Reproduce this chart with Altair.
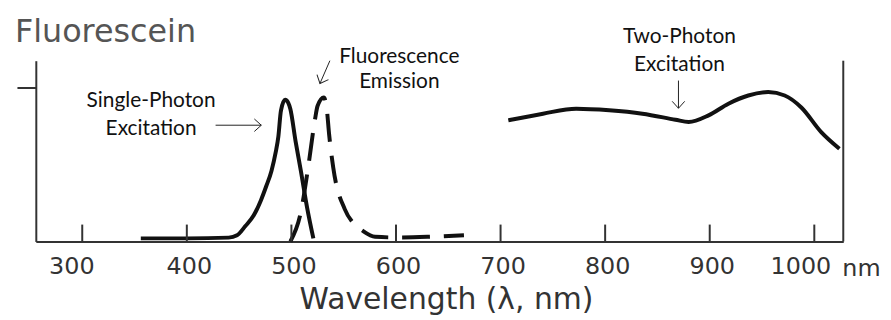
import altair as alt
import pandas as pd

# ---- data ----
exc_wl = [356, 400, 440, 448, 456, 464, 471, 476, 481, 485, 487.5, 490, 494, 497, 499, 504, 509, 515, 521]
exc_val = [0.02, 0.02, 0.025, 0.04, 0.1, 0.17, 0.27, 0.36, 0.46, 0.58, 0.68, 0.85, 0.92, 0.9, 0.86, 0.65, 0.46, 0.22, 0.02]

em_wl = [499, 509, 516, 522.5, 525, 531, 534, 536, 540, 551, 559, 568, 580, 600, 630, 665]
em_val = [0.0, 0.19, 0.48, 0.79, 0.88, 0.935, 0.85, 0.7, 0.48, 0.21, 0.12, 0.07, 0.03, 0.026, 0.03, 0.04]

tp_wl = [707.4, 740.6, 772.3, 803.9, 835.6, 867.2, 879.9, 898.9, 917.9, 936.9, 955.9, 971.7, 987.6, 1006.6, 1024]
tp_val = [0.787, 0.830, 0.862, 0.852, 0.830, 0.791, 0.776, 0.819, 0.895, 0.948, 0.970, 0.948, 0.870, 0.710, 0.602]

tick_values = [300, 400, 500, 600, 700, 800, 900, 1000]

label_lines = ["Single-Photon", "Excitation", "Fluorescence", "Emission", "Two-Photon", "Excitation"]
label_wl = [365.8, 365.8, 603.2, 603.2, 871.0, 871.0]
label_val = [0.871, 0.690, 1.161, 0.994, 1.290, 1.110]

unit_text = ["nm"]
unit_wl = [1026.8]
unit_val = [-0.226]

arrow_wl_start = [427.5, 536.8, 870.1]
arrow_val_start = [0.755, 1.174, 1.045]
arrow_wl_end = [471.2, 527.3, 870.1]
arrow_val_end = [0.755, 1.026, 0.865]
arrow_angle = [0, 113.5, 90]

X_DOMAIN = [255.6, 1027.7]
Y_DOMAIN = [0, 1.174]
W, H = 813, 182

xs = alt.Scale(domain=X_DOMAIN, nice=False, zero=False)
ys = alt.Scale(domain=Y_DOMAIN, nice=False, zero=False)

exc_df = pd.DataFrame({"wl": exc_wl, "val": exc_val})
em_df = pd.DataFrame({"wl": em_wl, "val": em_val})
tp_df = pd.DataFrame({"wl": tp_wl, "val": tp_val})
ticks_df = pd.DataFrame({"wl": tick_values})
labels_df = pd.DataFrame({"wl": label_wl, "val": label_val, "text": label_lines})
unit_df = pd.DataFrame({"wl": unit_wl, "val": unit_val, "text": unit_text})
arrows_df = pd.DataFrame({
    "wl": arrow_wl_start, "val": arrow_val_start,
    "wl2": arrow_wl_end, "val2": arrow_val_end, "angle": arrow_angle,
})
one = pd.DataFrame({"a": [0]})

AX = "#333333"

x_axis = alt.Axis(
    values=tick_values, ticks=False, grid=False, format="d",
    labelFont="DejaVu Sans", labelFontSize=24, labelColor=AX, labelPadding=13,
    labelFlush=False, labelOverlap=False,
    labelOffset={"condition": [{"test": "datum.value == 300", "value": -11},
                               {"test": "datum.value == 1000", "value": -14}],
                 "value": 2},
    domainColor=AX, domainWidth=2,
    title="Wavelength (λ, nm)", titleFont="DejaVu Sans", titleFontSize=30,
    titleFontWeight="normal", titleColor=AX, titleX=413, titleY=68,
    titleBaseline="alphabetic", titleAlign="center",
)
y_axis = alt.Axis(
    values=[1.0], labels=False, title=None, grid=False,
    tickSize=19, tickWidth=2, tickColor=AX, domainColor=AX, domainWidth=2,
)


def X(field):
    return alt.X(field, type="quantitative", scale=xs, axis=x_axis)


def Y(field):
    return alt.Y(field, type="quantitative", scale=ys, axis=y_axis)


exc = alt.Chart(exc_df).mark_line(color="#111111", strokeWidth=4, interpolate="monotone").encode(
    x=X("wl"), y=Y("val"),
)
em = alt.Chart(em_df).mark_line(color="#111111", strokeWidth=4, interpolate="monotone",
                                 strokeDash=[28, 14]).encode(
    x=X("wl"), y=Y("val"),
)
tp = alt.Chart(tp_df).mark_line(color="#111111", strokeWidth=4, interpolate="monotone").encode(
    x=X("wl"), y=Y("val"),
)
ticks = alt.Chart(ticks_df).mark_rule(color=AX, strokeWidth=2).encode(
    x=X("wl"),
    y=alt.value(H), y2=alt.value(H - 17),
)
right_line = alt.Chart(one).mark_rule(color=AX, strokeWidth=2).encode(
    x=alt.value(W), y=alt.value(0), y2=alt.value(H),
)
labels = alt.Chart(labels_df).mark_text(font="Lato", fontSize=21, color="#111111",
                                         align="center", baseline="alphabetic").encode(
    x=X("wl"), y=Y("val"),
    text="text:N",
)
unit = alt.Chart(unit_df).mark_text(font="DejaVu Sans", fontSize=24, color=AX,
                                     align="left", baseline="alphabetic").encode(
    x=X("wl"), y=Y("val"),
    text="text:N",
)
shafts = alt.Chart(arrows_df).mark_rule(color="#222222", strokeWidth=1).encode(
    x=X("wl"), y=Y("val"),
    x2="wl2:Q", y2="val2:Q",
)
heads = alt.Chart(arrows_df).mark_point(shape="M -1 -0.9 L 0 0 L -1 0.9", filled=False,
                                         color="#222222", strokeWidth=1, size=196, opacity=1).encode(
    x=X("wl2"), y=Y("val2"),
    angle=alt.Angle("angle:Q", scale=None),
)
title = alt.Chart(one).mark_text(text="Fluorescein", font="DejaVu Sans", fontSize=32,
                                  color="#555555", align="left", baseline="alphabetic").encode(
    x=alt.value(-21), y=alt.value(-19),
)

chart = alt.layer(exc, em, tp, ticks, right_line, labels, unit, shafts, heads, title).properties(
    width=W, height=H,
    autosize=alt.AutoSizeParams(type="none"),
    padding={"left": 28, "top": 52, "right": 40, "bottom": 76},
).configure_view(stroke=None)

chart.save("out.html", embed_options={"renderer": "svg", "actions": False})
